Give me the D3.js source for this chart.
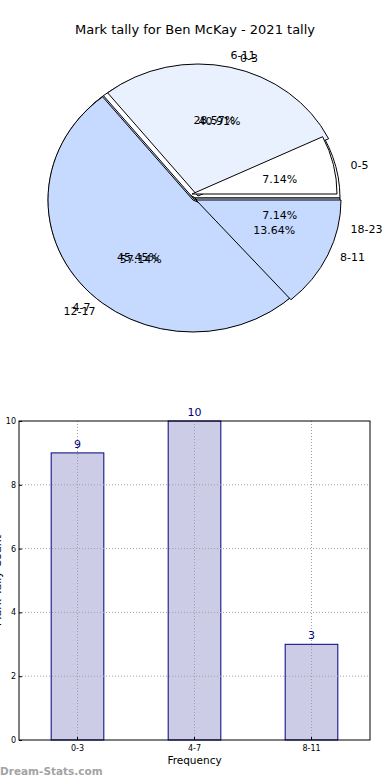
<!DOCTYPE html>
<html>
<head>
<meta charset="utf-8">
<script src="https://cdn.jsdelivr.net/npm/d3@7"></script>
<style>
  body { margin: 0; background: #fff; }
  svg { display: block; font-family: "DejaVu Sans", sans-serif; }
</style>
</head>
<body>
<div id="chart"></div>
<script>
// data
var titleText = "Mark tally for Ben McKay - 2021 tally";
var pie1Labels = ["0-3", "4-7", "8-11"];
var pie1Values = [9, 10, 3];
var pie2Labels = ["0-5", "6-11", "12-17", "18-23"];
var pie2Values = [1, 4, 8, 1];
var barCats = ["0-3", "4-7", "8-11"];
var barValues = [9, 10, 3];
var yTicks = [0, 2, 4, 6, 8, 10];

var width = 390, height = 780;
var svg = d3.select("#chart").append("svg")
    .attr("width", width)
    .attr("height", height);

svg.append("text")
    .attr("x", 195).attr("y", 30)
    .attr("text-anchor", "middle").attr("dominant-baseline", "middle")
    .attr("font-size", 13).attr("fill", "#000")
    .text(titleText);

// ---------- pie (two overlaid pies, matplotlib style) ----------
var cx = 195, cy = 198, rx = 145, ry = 132;
var sy = ry / rx;

// matplotlib starts at 3 o'clock going counter clockwise
var pie = d3.pie().sort(null).value(function (d) { return d; })
    .startAngle(Math.PI / 2).endAngle(Math.PI / 2 - 2 * Math.PI);
var arc = d3.arc().innerRadius(0).outerRadius(rx);

var p1 = pie(pie1Values);
var p2 = pie(pie2Values);
var pie1Colors = ["#ffffff", "#c6d9fe", "#c6d9fe"];
var pie2Colors = ["#ffffff", "#e9f1fe", "#c6d9fe", "#c6d9fe"];

var pieGroup = svg.append("g");

function wedge(d, fill, dx, dy) {
    return pieGroup.append("path")
        .attr("d", arc(d))
        .attr("transform", "translate(" + (cx + dx) + "," + (cy + dy) + ")scale(1," + sy + ")")
        .attr("fill", fill)
        .attr("stroke", "#000")
        .attr("stroke-width", 1)
        .attr("vector-effect", "non-scaling-stroke");
}

// shadow
pieGroup.append("ellipse")
    .attr("cx", cx - 2.5).attr("cy", cy + 2)
    .attr("rx", rx).attr("ry", ry)
    .attr("fill", "#3a3a3a").attr("opacity", 0.75);

// first pie underneath
p1.forEach(function (d, i) { wedge(d, pie1Colors[i], 0, 0); });
// big slice of the second pie
wedge(p2[2], pie2Colors[2], -1, 1);
// little gray sliver near the centre
pieGroup.append("path")
    .attr("d", d3.arc().innerRadius(0).outerRadius(40)(p2[2]))
    .attr("transform", "translate(" + (cx - 1) + "," + (cy + 3) + ")scale(1," + sy + ")")
    .attr("fill", "#8a8a8a").attr("opacity", 0.8);
wedge(p2[2], pie2Colors[2], -2, 2).attr("stroke", "none");
pieGroup.append("path")
    .attr("d", arc(p2[2]))
    .attr("transform", "translate(" + (cx - 2) + "," + (cy + 2) + ")scale(1," + sy + ")")
    .attr("fill", "none").attr("stroke", "#000")
    .attr("vector-effect", "non-scaling-stroke");
// first pie's right slice back on top
wedge(p1[2], pie1Colors[2], 1, 2);
// exploded upper slices of the second pie
wedge(p2[1], pie2Colors[1], 3, -2);
wedge(p2[0], pie2Colors[0], -3, -4);

function mid(d) { return (d.startAngle + d.endAngle) / 2; }

function labels(arcs, names, total) {
    arcs.forEach(function (d, i) {
        var a = mid(d);
        var sx = Math.sin(a), syy = -Math.cos(a);
        svg.append("text")
            .attr("x", cx + 1.1 * rx * sx)
            .attr("y", cy + 1.1 * ry * syy)
            .attr("text-anchor", sx > 0 ? "start" : "end")
            .attr("dominant-baseline", "middle")
            .attr("font-size", 11).attr("fill", "#000")
            .text(names[i]);
        svg.append("text")
            .attr("x", cx + 0.6 * rx * sx)
            .attr("y", cy + 0.6 * ry * syy)
            .attr("text-anchor", "middle")
            .attr("dominant-baseline", "middle")
            .attr("font-size", 11).attr("fill", "#000")
            .text((100 * d.value / total).toFixed(2) + "%");
    });
}
labels(p1, pie1Labels, d3.sum(pie1Values));
labels(p2, pie2Labels, d3.sum(pie2Values));

// ---------- bar chart ----------
var plotL = 19, plotR = 370, plotT = 421, plotB = 740;

var x = d3.scaleBand().domain(barCats).range([plotL, plotR])
    .paddingInner(0.55).paddingOuter(0.275);
var y = d3.scaleLinear().domain([0, 10]).range([plotB, plotT]);

svg.selectAll(".bar").data(barValues).enter().append("rect")
    .attr("x", function (d, i) { return x(barCats[i]); })
    .attr("y", function (d) { return y(d); })
    .attr("width", x.bandwidth())
    .attr("height", function (d) { return plotB - y(d); })
    .attr("fill", "#ccccE6")
    .attr("stroke", "#000080").attr("stroke-width", 1);

// dotted grid, drawn over the bars like matplotlib does here
var grid = svg.append("g");
grid.selectAll(".hg").data(yTicks.slice(1, -1)).enter().append("line")
    .attr("x1", plotL).attr("x2", plotR)
    .attr("y1", function (d) { return y(d); })
    .attr("y2", function (d) { return y(d); })
    .attr("stroke", "#a0a0a0").attr("stroke-dasharray", "1,2");
grid.selectAll(".vg").data(barCats).enter().append("line")
    .attr("x1", function (d) { return x(d) + x.bandwidth() / 2; })
    .attr("x2", function (d) { return x(d) + x.bandwidth() / 2; })
    .attr("y1", plotT).attr("y2", plotB)
    .attr("stroke", "#a0a0a0").attr("stroke-dasharray", "1,2");

svg.selectAll(".val").data(barValues).enter().append("text")
    .attr("x", function (d, i) { return x(barCats[i]) + x.bandwidth() / 2; })
    .attr("y", function (d) { return y(d) - 5; })
    .attr("text-anchor", "middle")
    .attr("font-size", 11).attr("fill", "#000080")
    .text(function (d) { return d; });

var yAxis = svg.append("g")
    .attr("transform", "translate(" + plotL + ",0)")
    .call(d3.axisLeft(y).tickValues(yTicks).tickSize(-3).tickPadding(3));
var xAxis = svg.append("g")
    .attr("transform", "translate(0," + plotB + ")")
    .call(d3.axisBottom(x).tickSize(-3).tickPadding(5));
[yAxis, xAxis].forEach(function (g) {
    g.select(".domain").remove();
    g.selectAll("text").attr("font-size", 8).attr("fill", "#000")
        .attr("font-family", "DejaVu Sans, sans-serif");
});

svg.append("rect")
    .attr("x", plotL).attr("y", plotT)
    .attr("width", plotR - plotL).attr("height", plotB - plotT)
    .attr("fill", "none").attr("stroke", "#000").attr("stroke-width", 1);

svg.append("text")
    .attr("x", (plotL + plotR) / 2).attr("y", 764)
    .attr("text-anchor", "middle")
    .attr("font-size", 10.5).attr("fill", "#000")
    .text("Frequency");

// y label sits mostly off the left edge, as in the reference
svg.append("text")
    .attr("transform", "translate(1," + (plotT + plotB) / 2 + ")rotate(-90)")
    .attr("text-anchor", "middle")
    .attr("font-size", 11).attr("fill", "#000")
    .text("Mark Tally Count");

svg.append("text")
    .attr("x", 0).attr("y", 775)
    .attr("font-size", 10.5).attr("font-weight", "bold").attr("fill", "#a3a3a3")
    .text("Dream-Stats.com");
</script>
</body>
</html>
